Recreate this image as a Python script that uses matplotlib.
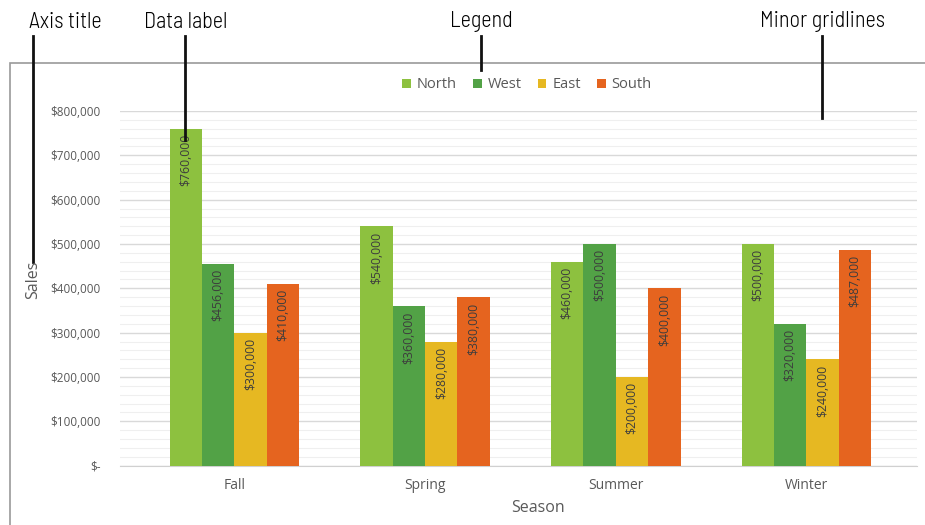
import matplotlib.pyplot as plt
from matplotlib.patches import Rectangle
import numpy as np

seasons = ['Fall', 'Spring', 'Summer', 'Winter']
regions = ['North', 'West', 'East', 'South']
north = [760000, 540000, 460000, 500000]
west = [456000, 360000, 500000, 320000]
east = [300000, 280000, 200000, 240000]
south = [410000, 380000, 400000, 487000]
colors = ['#8DC13F', '#52A246', '#E6B822', '#E5641F']

plt.rcParams['font.family'] = ['Open Sans', 'DejaVu Sans']

fig = plt.figure(figsize=(9.25, 5.25), dpi=100)
ax = fig.add_axes([120/925, 1 - 465.7/525, 797/925, 354.7/525])

x = np.arange(len(seasons))
w = 0.17
for i, (name, vals) in enumerate(zip(regions, [north, west, east, south])):
    bars = ax.bar(x + (i - 1.5) * w, vals, w, color=colors[i], label=name, zorder=3)
    for b, v in zip(bars, vals):
        ax.text(b.get_x() + b.get_width() / 2, v - 12000, '${:,}'.format(v),
                rotation=90, ha='center', va='top', fontsize=8.8,
                color='#3d3d3d', zorder=4)

ax.set_xlim(-0.6, 3.58)
ax.set_ylim(0, 800000)
ax.set_yticks(np.arange(0, 800001, 100000))
ax.set_yticks(np.arange(0, 800001, 20000), minor=True)
ax.set_yticklabels(['$-'] + ['${:,}'.format(v) for v in range(100000, 800001, 100000)])
ax.set_xticks(x)
ax.set_xticklabels(seasons)
ax.grid(axis='y', which='major', color='#d9d9d9', lw=1, zorder=0)
ax.grid(axis='y', which='minor', color='#efefef', lw=0.8, zorder=0)
ax.tick_params(axis='y', which='both', length=0, pad=14, labelsize=8.5, labelcolor='#595959')
ax.tick_params(axis='x', length=0, pad=9, labelsize=10, labelcolor='#595959')
for s in ['top', 'right', 'left']:
    ax.spines[s].set_visible(False)
ax.spines['bottom'].set_color('#d0d0d0')

fig.text(538/925, 1 - 508/525, 'Season', ha='center', va='center', fontsize=11.5, color='#595959')
fig.text(33/925, 1 - 280/525, 'Sales', ha='center', va='center', rotation=90, fontsize=11.5, color='#595959')

fig.legend(loc='center', bbox_to_anchor=(527/925, 1 - 85/525), ncol=4, frameon=False,
           fontsize=10.5, labelcolor='#595959', handlelength=0.6, handleheight=0.6,
           handletextpad=0.4, columnspacing=1.1)

# chart frame
fig.patches.append(Rectangle((10/925, -0.01), 1.0, 1 - 63/525 + 0.01, transform=fig.transFigure,
                             fill=False, edgecolor='#9a9a9a', lw=1.2))

# callouts
callouts = [('Axis title', 65, 33, 262), ('Data label', 186, 185, 140),
            ('Legend', 481, 481, 70), ('Minor gridlines', 822, 822, 118)]
for txt, tx, lx, ly in callouts:
    fig.text(tx/925, 1 - 22/525, txt, ha='center', va='center', fontsize=16,
             family=['Barlow Semi Condensed', 'DejaVu Sans'], fontweight=300, color='black')
    fig.add_artist(plt.Line2D([lx/925, lx/925], [1 - 36/525, 1 - ly/525],
                              transform=fig.transFigure, color='#111111', lw=2))

fig.savefig('out.png', dpi=100)
